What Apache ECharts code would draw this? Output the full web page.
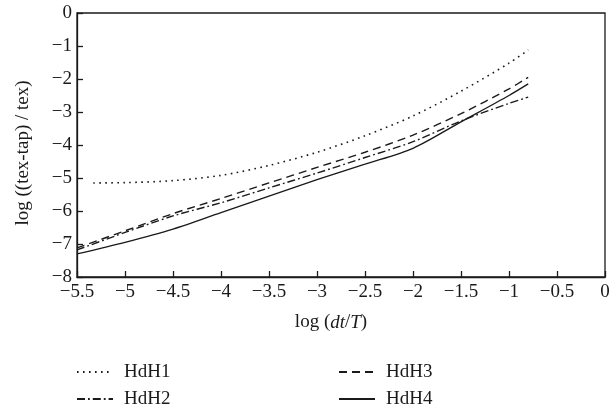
<!DOCTYPE html>
<html>
<head>
<meta charset="utf-8">
<script src="https://cdn.jsdelivr.net/npm/echarts@6/dist/echarts.min.js"></script>
<style>
  html, body { margin: 0; padding: 0; background: #fff; }
  #chart { width: 613px; height: 410px; }
</style>
</head>
<body>
<div id="chart"></div>
<script>
// log(dt/T) sample positions
const xHdH1 = [-5.33, -5, -4.5, -4, -3.5, -3, -2.5, -2, -1.5, -1, -0.8];
const xOther = [-5.5, -5, -4.5, -4, -3.5, -3, -2.5, -2, -1.5, -1, -0.8];

// log((tex-tap)/tex)
const hdh1 = [-5.15, -5.14, -5.08, -4.92, -4.62, -4.22, -3.72, -3.12, -2.37, -1.52, -1.12];
const hdh2 = [-7.18, -6.65, -6.15, -5.75, -5.3, -4.85, -4.38, -3.9, -3.27, -2.74, -2.55];
const hdh3 = [-7.12, -6.6, -6.08, -5.62, -5.15, -4.68, -4.22, -3.7, -3.05, -2.3, -1.95];
const hdh4 = [-7.3, -6.95, -6.55, -6.05, -5.55, -5.05, -4.58, -4.1, -3.3, -2.5, -2.15];

const xTicks = [-5.5, -5, -4.5, -4, -3.5, -3, -2.5, -2, -1.5, -1, -0.5, 0];
const yTicks = [-8, -7, -6, -5, -4, -3, -2, -1, 0];

const ink = '#1a1a1a';
const serif = 'Liberation Serif';

const pairs = (xs, ys) => xs.map((x, i) => [x, ys[i]]);
const minus = v => String(v).replace('-', '\u2212');

const chart = echarts.init(document.getElementById('chart'));

const mkLine = (name, xs, ys, type, width) => ({
    name: name,
    type: 'line',
    data: pairs(xs, ys),
    symbol: 'none',
    smooth: 0.3,
    lineStyle: { color: ink, width: width, type: type },
    itemStyle: { color: ink }
});

const legendBase = {
    orient: 'vertical',
    top: 362,
    padding: 0,
    itemWidth: 36,
    itemHeight: 14,
    itemGap: 7,
    itemStyle: { opacity: 0 },
    textStyle: { fontFamily: serif, fontSize: 19, color: ink, lineHeight: 20, padding: [0, 0, 0, 6] }
};

// inside ticks: a tick-only axis pulled 6px into the plot, ticks pointing back out
const tickAxis = (pos, min, max, interval) => ({
    type: 'value',
    position: pos,
    offset: -6,
    min: min,
    max: max,
    interval: interval,
    axisLine: { show: false, onZero: false },
    axisTick: { show: true, inside: false, length: 6, lineStyle: { color: ink, width: 1.3 } },
    axisLabel: { show: false },
    splitLine: { show: false }
});

chart.setOption({
    animation: false,
    grid: {
        left: 77,
        right: 8,
        top: 13,
        bottom: 133,
        show: true,
        borderColor: ink,
        borderWidth: 1.3
    },
    legend: [
        Object.assign({}, legendBase, { data: ['HdH1', 'HdH2'], left: 76 }),
        Object.assign({}, legendBase, { data: ['HdH3', 'HdH4'], left: 338 })
    ],
    xAxis: [{
        type: 'value',
        position: 'bottom',
        min: xTicks[0],
        max: xTicks[xTicks.length - 1],
        interval: 0.5,
        name: '{a|log (}{i|dt}{a|/}{i|T}{a|)}',
        nameLocation: 'middle',
        nameGap: 36,
        nameTextStyle: {
            padding: [0, 20, 0, 0],
            rich: {
                a: { fontFamily: serif, fontSize: 19, color: ink },
                i: { fontFamily: serif, fontSize: 19, color: ink, fontStyle: 'italic' }
            }
        },
        axisLine: { onZero: false, lineStyle: { color: ink, width: 1.3 } },
        axisTick: { show: false },
        axisLabel: { fontFamily: serif, fontSize: 19, color: ink, margin: 6, formatter: minus },
        splitLine: { show: false }
    }, tickAxis('bottom', xTicks[0], xTicks[xTicks.length - 1], 0.5)],
    yAxis: [{
        type: 'value',
        position: 'left',
        min: yTicks[0],
        max: yTicks[yTicks.length - 1],
        interval: 1,
        name: 'log ((tex-tap) / tex)',
        nameLocation: 'middle',
        nameGap: 44,
        nameTextStyle: { fontFamily: serif, fontSize: 19, color: ink, padding: [0, 16, 0, 0] },
        axisLine: { onZero: false, lineStyle: { color: ink, width: 1.3 } },
        axisTick: { show: false },
        axisLabel: { fontFamily: serif, fontSize: 19, color: ink, margin: 5, formatter: minus },
        splitLine: { show: false }
    }, tickAxis('left', yTicks[0], yTicks[yTicks.length - 1], 1)],
    series: [
        mkLine('HdH1', xHdH1, hdh1, [1.6, 4.4], 1.6),
        mkLine('HdH2', xOther, hdh2, [8, 3, 1.8, 3], 1.4),
        mkLine('HdH3', xOther, hdh3, [8, 5], 1.4),
        mkLine('HdH4', xOther, hdh4, 'solid', 1.4)
    ]
});
</script>
</body>
</html>
